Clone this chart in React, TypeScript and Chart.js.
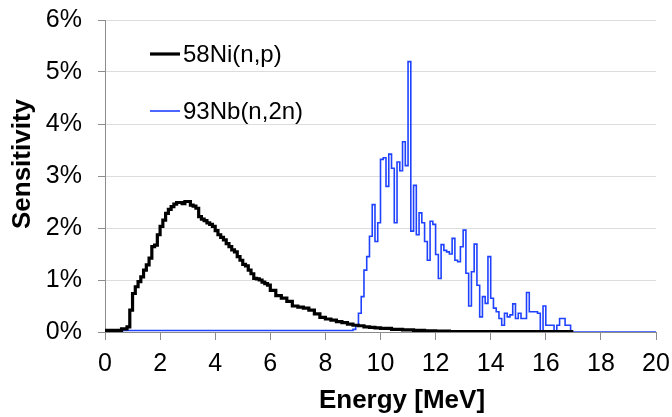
import React, { useEffect, useRef } from "react";
import { Chart, registerables } from "chart.js";

Chart.register(...registerables);

const X_MIN = 0;
const X_MAX = 20;
const X_STEP = 2;
const Y_MIN = 0;
const Y_MAX = 6;
const Y_STEP = 1;
const X_TITLE = "Energy [MeV]";
const Y_TITLE = "Sensitivity";
const SERIES_LABELS = ["58Ni(n,p)", "93Nb(n,2n)"];

// 58Ni(n,p): bin left edges (MeV) and sensitivity (%)
const NI_ENERGY = [
  0, 0.6, 0.8, 0.9,
  1.0, 1.1, 1.2, 1.3, 1.4, 1.5, 1.6, 1.7, 1.8, 1.9,
  2.0, 2.1, 2.2, 2.3, 2.4, 2.5, 2.6, 2.7, 2.8, 2.9,
  3.0, 3.1, 3.2, 3.3, 3.4, 3.5, 3.6, 3.7, 3.8, 3.9,
  4.0, 4.1, 4.2, 4.3, 4.4, 4.5, 4.6, 4.7, 4.8, 4.9,
  5.0, 5.1, 5.2, 5.3, 5.4, 5.5, 5.6, 5.7, 5.8, 5.9,
  6.0, 6.2, 6.4, 6.6, 6.8, 7.0, 7.2, 7.4, 7.6, 7.8,
  8.0, 8.2, 8.4, 8.6, 8.8, 9.0, 9.2, 9.4, 9.6, 9.8,
  10.0, 10.4, 10.8, 11.2, 11.6, 12.0, 12.5, 13.0, 14.0, 15.0, 16.0, 17.0,
];
const NI_VALUE = [
  0.02, 0.03, 0.06, 0.1,
  0.42, 0.74, 0.87, 0.97, 1.06, 1.19, 1.29, 1.42, 1.64, 1.67,
  1.87, 2.03, 2.15, 2.28, 2.36, 2.41, 2.46, 2.49, 2.49, 2.47,
  2.51, 2.51, 2.44, 2.42, 2.38, 2.22, 2.17, 2.14, 2.1, 2.07,
  2.03, 1.95, 1.87, 1.82, 1.77, 1.7, 1.64, 1.58, 1.54, 1.45,
  1.38, 1.3, 1.27, 1.19, 1.12, 1.03, 1.02, 1.0, 0.96, 0.93,
  0.9, 0.8, 0.7, 0.65, 0.59, 0.5, 0.48, 0.46, 0.42, 0.35,
  0.28, 0.25, 0.23, 0.2, 0.18, 0.15, 0.13, 0.12, 0.1, 0.09,
  0.08, 0.07, 0.05, 0.04, 0.03, 0.02, 0.015, 0.01, 0.01, 0.01, 0.01, 0.01,
];

// 93Nb(n,2n): 0.1 MeV bins starting at 9.0 MeV, sensitivity (%)
const NB_START = 9.0;
const NB_BIN = 0.1;
const NB_VALUE = [
  0.03, 0.05, 0.13, 0.36, 0.68, 1.19, 1.45, 1.84, 2.45, 1.74,
  2.1, 3.32, 3.35, 2.8, 3.42, 3.15, 2.1, 3.27, 3.1, 3.66,
  3.2, 5.2, 1.94, 2.82, 1.87, 2.29, 2.1, 1.74, 1.38, 2.13,
  2.07, 1.49, 1.03, 1.68, 1.57, 1.54, 1.5, 1.8, 1.38, 1.35,
  1.64, 1.96, 1.13, 0.5, 1.16, 1.69, 0.9, 0.29, 0.68, 0.55,
  1.45, 0.65, 0.46, 0.39, 0.26, 0.13, 0.36, 0.29, 0.33, 0.54,
  0.26, 0.36, 0.26, 0.26, 0.76, 0.39, 0.39, 0.39, 0.36, 0.0,
  0.5, 0.13, 0.13, 0.13, 0.0, 0.13, 0.26, 0.26, 0.13, 0.13,
];

const FONT = "'Liberation Sans', Arial, Helvetica, sans-serif";
const NI_COLOR = "#000000";
const NB_COLOR = "#1f42ff";
const AXIS_COLOR = "#8c8c8c";
const GRID_COLOR = "#dcdcdc";

export default function App() {
  const ref = useRef<HTMLCanvasElement | null>(null);

  useEffect(() => {
    if (!ref.current) return;
    const niData = NI_ENERGY.map((x, i) => ({ x, y: NI_VALUE[i] }));
    const nbEnd = +(NB_START + NB_VALUE.length * NB_BIN).toFixed(2);
    const nbData = [
      { x: X_MIN, y: 0 },
      ...NB_VALUE.map((y, i) => ({ x: +(NB_START + i * NB_BIN).toFixed(2), y })),
      { x: nbEnd, y: 0 },
      { x: X_MAX, y: 0 },
    ];

    const overlay = {
      id: "overlay",
      afterDraw(chart: any) {
        const ctx = chart.ctx as CanvasRenderingContext2D;
        ctx.save();
        const items = [
          { label: SERIES_LABELS[0], color: NI_COLOR, width: 3.2, y: 54 },
          { label: SERIES_LABELS[1], color: NB_COLOR, width: 1.6, y: 111 },
        ];
        for (const it of items) {
          ctx.strokeStyle = it.color;
          ctx.lineWidth = it.width;
          ctx.beginPath();
          ctx.moveTo(150, it.y);
          ctx.lineTo(180, it.y);
          ctx.stroke();
          ctx.fillStyle = "#000";
          ctx.font = `24px ${FONT}`;
          ctx.textAlign = "left";
          ctx.textBaseline = "middle";
          ctx.fillText(it.label, 183, it.y + 1);
        }
        ctx.fillStyle = "#000";
        ctx.font = `bold 26px ${FONT}`;
        ctx.textAlign = "center";
        ctx.textBaseline = "middle";
        ctx.fillText(X_TITLE, 402, 401);
        ctx.translate(23, 164);
        ctx.rotate(-Math.PI / 2);
        ctx.fillText(Y_TITLE, 0, 0);
        ctx.restore();
      },
    };

    const chart = new Chart(ref.current, {
      type: "line",
      data: {
        datasets: [
          {
            label: SERIES_LABELS[0],
            data: niData,
            borderColor: NI_COLOR,
            backgroundColor: NI_COLOR,
            borderWidth: 3.2,
            stepped: "after",
            pointRadius: 0,
            fill: false,
          },
          {
            label: SERIES_LABELS[1],
            data: nbData,
            borderColor: NB_COLOR,
            backgroundColor: NB_COLOR,
            borderWidth: 1.6,
            stepped: "after",
            pointRadius: 0,
            fill: false,
          },
        ],
      },
      options: {
        animation: false,
        responsive: true,
        maintainAspectRatio: false,
        layout: { padding: { top: 20, right: 16, left: 0, bottom: 0 } },
        plugins: {
          legend: { display: false },
          tooltip: { enabled: false },
        },
        scales: {
          x: {
            type: "linear",
            min: X_MIN,
            max: X_MAX,
            ticks: {
              stepSize: X_STEP,
              autoSkip: false,
              maxRotation: 0,
              color: "#000",
              padding: 9,
              font: { family: FONT, size: 25 },
            },
            grid: {
              drawOnChartArea: false,
              drawTicks: true,
              tickLength: 8,
              tickColor: AXIS_COLOR,
            },
            border: { color: AXIS_COLOR, width: 1 },
            afterFit: (s: any) => {
              s.height = 85;
              s.paddingLeft = 0;
              s.paddingRight = 0;
              s.paddingTop = 0;
              s.paddingBottom = 0;
            },
          },
          y: {
            type: "linear",
            min: Y_MIN,
            max: Y_MAX,
            ticks: {
              stepSize: Y_STEP,
              color: "#000",
              padding: 16,
              font: { family: FONT, size: 25 },
              callback: (v: any) => `${v}%`,
            },
            grid: {
              color: GRID_COLOR,
              tickLength: 7,
              tickColor: AXIS_COLOR,
            },
            border: { color: AXIS_COLOR, width: 1 },
            afterFit: (s: any) => {
              s.width = 105;
              s.paddingLeft = 0;
              s.paddingRight = 0;
              s.paddingTop = 0;
              s.paddingBottom = 0;
            },
          },
        },
      },
      plugins: [overlay],
    });
    return () => chart.destroy();
  }, []);

  return (
    <div style={{ position: "fixed", left: 0, top: 0, width: 672, height: 417 }}>
      <canvas ref={ref} />
    </div>
  );
}
